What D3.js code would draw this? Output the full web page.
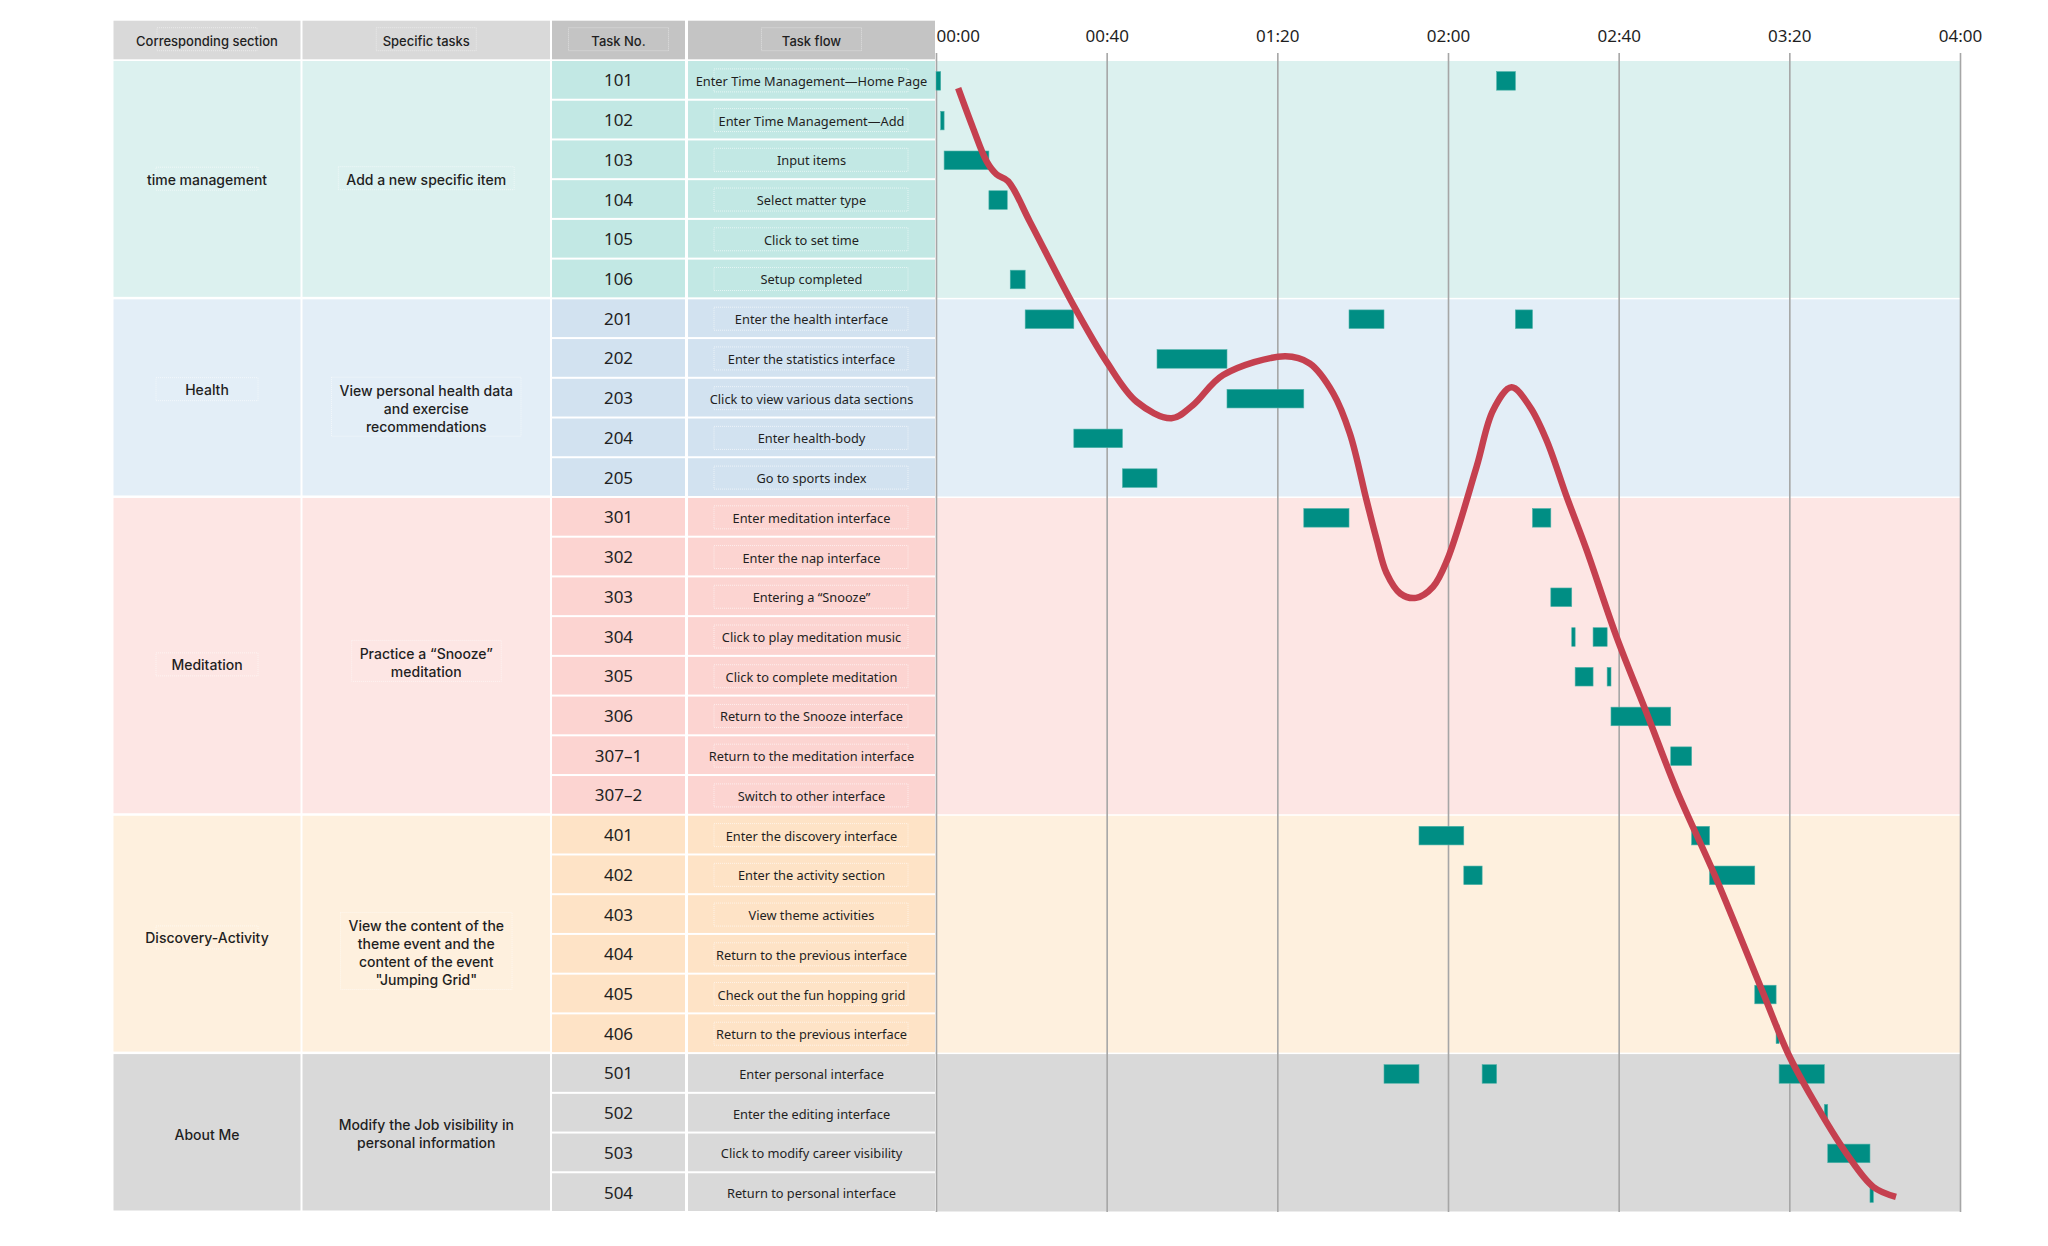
<!DOCTYPE html>
<html>
<head>
<meta charset="utf-8">
<script src="https://cdn.jsdelivr.net/npm/d3@7"></script>
<style>
  body { margin: 0; background: #fff; }
  text { fill: #1f1f1f; }
</style>
</head>
<body>
<div class="ganttChart"></div>
<script>
// ---- data ----
var sectionNames = ["time management", "Health", "Meditation", "Discovery-Activity", "About Me"];
var sectionTasks = [
  ["Add a new specific item"],
  ["View personal health data", "and exercise", "recommendations"],
  ["Practice a \u201cSnooze\u201d", "meditation"],
  ["View the content of the", "theme event and the", "content of the event", "\"Jumping Grid\""],
  ["Modify the Job visibility in", "personal information"]
];
var sectionRowCounts = [6, 5, 8, 6, 4];

var taskIds = ["101", "102", "103", "104", "105", "106",
  "201", "202", "203", "204", "205",
  "301", "302", "303", "304", "305", "306", "307\u20131", "307\u20132",
  "401", "402", "403", "404", "405", "406",
  "501", "502", "503", "504"];

var taskFlows = ["Enter Time Management\u2014Home Page", "Enter Time Management\u2014Add", "Input items",
  "Select matter type", "Click to set time", "Setup completed",
  "Enter the health interface", "Enter the statistics interface", "Click to view various data sections",
  "Enter health-body", "Go to sports index",
  "Enter meditation interface", "Enter the nap interface", "Entering a \u201cSnooze\u201d",
  "Click to play meditation music", "Click to complete meditation", "Return to the Snooze interface",
  "Return to the meditation interface", "Switch to other interface",
  "Enter the discovery interface", "Enter the activity section", "View theme activities",
  "Return to the previous interface", "Check out the fun hopping grid", "Return to the previous interface",
  "Enter personal interface", "Enter the editing interface", "Click to modify career visibility",
  "Return to personal interface"];

// [task, start minute, end minute]
var segments = [
  ["101", 0, 1.1], ["102", 1.1, 1.9], ["103", 1.9, 12.4], ["104", 12.4, 16.7], ["106", 17.4, 20.9],
  ["201", 20.9, 32.3], ["204", 32.3, 43.7], ["205", 43.7, 51.8], ["202", 51.8, 68.2], ["203", 68.2, 86.2],
  ["301", 86.2, 96.8], ["201", 96.8, 105.0], ["501", 105.0, 113.2], ["401", 113.2, 123.7],
  ["402", 123.7, 128.0], ["501", 128.0, 131.4], ["101", 131.4, 135.8], ["201", 135.8, 139.8],
  ["301", 139.8, 144.1], ["303", 144.1, 149.0], ["304", 149.0, 149.8], ["305", 149.8, 154.0],
  ["304", 154.0, 157.3], ["305", 157.3, 158.2], ["306", 158.2, 172.2], ["307\u20131", 172.2, 177.1],
  ["401", 177.1, 181.3], ["402", 181.3, 191.9], ["405", 191.9, 196.9], ["406", 196.9, 197.6],
  ["501", 197.6, 208.2], ["502", 208.2, 209.0], ["503", 209.0, 218.9], ["504", 218.9, 219.7]
];

// trend line: minute and fractional row index (0 = task 101)
var curveMinutes = [5.2, 8.7, 11.9, 14.2, 16.9, 22.0, 32.2, 40.0, 47.0, 55.2, 60.2, 67.3, 81.8,
  87.6, 93.1, 97.0, 100.9, 103.3, 105.6, 108.8, 112.5, 116.5, 119.8, 126.7, 130.6, 134.9, 139.2,
  143.1, 147.8, 152.5, 159.5, 166.6, 173.6, 183.0, 193.9, 199.7, 205.6, 213.4, 219.7, 225.0];
var curveRows = [0.21, 1.22, 2.06, 2.38, 2.55, 3.57, 5.67, 7.10, 8.10, 8.52, 8.19, 7.43, 6.96,
  7.14, 7.89, 8.90, 10.58, 11.58, 12.42, 12.93, 13.04, 12.76, 12.09, 9.74, 8.31, 7.74, 8.23,
  9.07, 10.49, 11.84, 14.02, 15.95, 17.88, 20.14, 23.0, 24.51, 25.68, 27.03, 27.87, 28.12];

var timeTicks = [0, 40, 80, 120, 160, 200, 240];
var tickLabels = ["00:00", "00:40", "01:20", "02:00", "02:40", "03:20", "04:00"];
var headerLabels = ["Corresponding section", "Specific tasks", "Task No.", "Task flow"];

// ---- styles / layout ----
var lightColors = ["#dcf1ef", "#e3eef7", "#fde6e4", "#fef0de", "#d9d9d9"];
var midColors = ["#c2e8e4", "#d2e2f0", "#fcd4d1", "#fee3c6", "#d9d9d9"];
var headerColors = ["#d9d9d9", "#d9d9d9", "#c4c4c4", "#c4c4c4"];
var cols = [[113.5, 300.5], [302.5, 550], [552, 685], [688, 935]];
var nameShift = [0, -8, 9, 4, 2], taskShift = [0, 10, 6, 18, 0];
var rowsTop = 60, rowsBottom = 1212, headTop = 20.7, headBottom = 59.3;

var width = 2048, height = 1246;

var svg = d3.select(".ganttChart").append("svg")
  .attr("width", width)
  .attr("height", height);

var x = d3.scaleLinear().domain([0, 240]).range([936, 1960]);
var y = d3.scaleBand().domain(taskIds).range([rowsTop, rowsBottom]);
var rowPos = d3.scaleLinear().domain([-0.5, taskIds.length - 0.5]).range([rowsTop, rowsBottom]);

// section spans
var sections = [], start = 0;
sectionNames.forEach(function(name, i) {
  sections.push({ i: i, name: name, tasks: sectionTasks[i], first: start, last: start + sectionRowCounts[i] - 1 });
  start += sectionRowCounts[i];
});
var sectionOf = [];
sections.forEach(function(s) { for (var k = s.first; k <= s.last; k++) sectionOf[k] = s.i; });

function secTop(s) { return y(taskIds[s.first]); }
function secBottom(s) { return y(taskIds[s.last]) + y.bandwidth(); }
function secMid(s) { return (secTop(s) + secBottom(s)) / 2; }

// header
var head = svg.append("g").attr("class", "header");
head.selectAll("rect.head")
  .data(headerLabels)
  .enter().append("rect")
    .attr("class", "head")
    .attr("x", function(d, i) { return cols[i][0]; })
    .attr("y", headTop)
    .attr("width", function(d, i) { return cols[i][1] - cols[i][0]; })
    .attr("height", headBottom - headTop)
    .style("fill", function(d, i) { return headerColors[i]; });

head.selectAll("rect.box")
  .data(headerLabels)
  .enter().append("rect")
    .attr("class", "box")
    .attr("x", function(d, i) { return (cols[i][0] + cols[i][1]) / 2 - 50; })
    .attr("y", headTop + 7)
    .attr("width", 100)
    .attr("height", 23)
    .style("fill", "none")
    .style("stroke", "#ffffff")
    .style("stroke-opacity", 0.45)
    .style("stroke-dasharray", "1 1");

head.selectAll("text")
  .data(headerLabels)
  .enter().append("text")
    .attr("x", function(d, i) { return (cols[i][0] + cols[i][1]) / 2; })
    .attr("y", (headTop + headBottom) / 2 + 1)
    .attr("dominant-baseline", "central")
    .style("text-anchor", "middle")
    .style("font-family", "Inter, 'Noto Sans', sans-serif")
    .style("font-weight", 500)
    .style("font-size", "13px")
    .text(function(d) { return d; });

// section cells (col 1, col 2) and chart backgrounds
var sec = svg.append("g").attr("class", "sections");
[0, 1].forEach(function(c) {
  sec.selectAll("rect.col" + c)
    .data(sections)
    .enter().append("rect")
      .attr("class", "col" + c)
      .attr("x", cols[c][0])
      .attr("y", function(s) { return secTop(s) + 1; })
      .attr("width", cols[c][1] - cols[c][0])
      .attr("height", function(s) { return secBottom(s) - secTop(s) - 2.5; })
      .style("fill", function(s) { return lightColors[s.i]; });
});

sec.selectAll("rect.bg")
  .data(sections)
  .enter().append("rect")
    .attr("class", "bg")
    .attr("x", x(0))
    .attr("y", function(s) { return secTop(s) + 1; })
    .attr("width", x(240) - x(0))
    .attr("height", function(s) { return secBottom(s) - secTop(s) - 1.5; })
    .style("fill", function(s) { return lightColors[s.i]; });

// section label boxes
sec.selectAll("rect.labelBox")
  .data(sections.filter(function(s) { return s.i < 4; }))
  .enter().append("rect")
    .attr("class", "labelBox")
    .attr("x", (cols[0][0] + cols[0][1]) / 2 - 51)
    .attr("y", function(s) { return secMid(s) + nameShift[s.i] - 12; })
    .attr("width", 102)
    .attr("height", 23)
    .style("fill", "none")
    .style("stroke", "#ffffff")
    .style("stroke-opacity", 0.55)
    .style("stroke-dasharray", "1 1");

sec.selectAll("text.name")
  .data(sections)
  .enter().append("text")
    .attr("class", "name")
    .attr("x", (cols[0][0] + cols[0][1]) / 2)
    .attr("y", function(s) { return secMid(s) + nameShift[s.i]; })
    .attr("dominant-baseline", "central")
    .style("text-anchor", "middle")
    .style("font-family", "Inter, 'Noto Sans', sans-serif")
    .style("font-weight", 500)
    .style("font-size", "14px")
    .text(function(s) { return s.name; });

var taskText = sec.selectAll("text.task")
  .data(sections)
  .enter().append("text")
    .attr("class", "task")
    .attr("x", (cols[1][0] + cols[1][1]) / 2)
    .attr("y", function(s) { return secMid(s) + taskShift[s.i] - (s.tasks.length - 1) * 9; })
    .attr("dominant-baseline", "central")
    .style("text-anchor", "middle")
    .style("font-family", "Inter, 'Noto Sans', sans-serif")
    .style("font-weight", 500)
    .style("font-size", "14px");

taskText.selectAll("tspan")
  .data(function(s) { return s.tasks; })
  .enter().append("tspan")
    .attr("x", (cols[1][0] + cols[1][1]) / 2)
    .attr("dy", function(d, i) { return i === 0 ? 0 : 18; })
    .text(function(d) { return d; });

// faint outline boxes around the task texts
taskText.each(function(s) {
  if (s.i === 4) return;
  var b = this.getBBox();
  sec.append("rect")
    .attr("x", b.x - 8)
    .attr("y", b.y - 4)
    .attr("width", b.width + 16)
    .attr("height", b.height + 6)
    .style("fill", "none")
    .style("stroke", "#ffffff")
    .style("stroke-opacity", 0.55)
    .style("stroke-dasharray", "1 1");
});

// task rows (col 3, col 4)
var rows = svg.append("g").attr("class", "rows");
[2, 3].forEach(function(c) {
  rows.selectAll("rect.cell" + c)
    .data(taskIds)
    .enter().append("rect")
      .attr("class", "cell" + c)
      .attr("x", cols[c][0])
      .attr("y", function(d) { return y(d) + 1; })
      .attr("width", cols[c][1] - cols[c][0])
      .attr("height", y.bandwidth() - 2)
      .style("fill", function(d, i) { return midColors[sectionOf[i]]; });
});

rows.selectAll("rect.flowBox")
  .data(taskIds.filter(function(d, i) { return sectionOf[i] < 4; }))
  .enter().append("rect")
    .attr("class", "flowBox")
    .attr("x", 714)
    .attr("y", function(d) { return y(d) + y.bandwidth() / 2 - 11; })
    .attr("width", 194)
    .attr("height", 23)
    .style("fill", "none")
    .style("stroke", "#ffffff")
    .style("stroke-opacity", 0.6)
    .style("stroke-dasharray", "1 1");

rows.selectAll("text.num")
  .data(taskIds)
  .enter().append("text")
    .attr("class", "num")
    .attr("x", (cols[2][0] + cols[2][1]) / 2)
    .attr("y", function(d) { return y(d) + y.bandwidth() / 2; })
    .attr("dominant-baseline", "central")
    .style("text-anchor", "middle")
    .style("font-family", "'Noto Sans', sans-serif")
    .style("font-size", "17px")
    .text(function(d) { return d; });

rows.selectAll("text.flow")
  .data(taskFlows)
  .enter().append("text")
    .attr("class", "flow")
    .attr("x", (cols[3][0] + cols[3][1]) / 2)
    .attr("y", function(d, i) { return y(taskIds[i]) + y.bandwidth() / 2 + 1; })
    .attr("dominant-baseline", "central")
    .style("text-anchor", "middle")
    .style("font-family", "'Noto Sans', sans-serif")
    .style("font-size", "12.8px")
    .text(function(d) { return d; });

// time axis with full-height grid lines
var axis = svg.append("g")
  .attr("class", "axis")
  .attr("transform", "translate(0," + rowsBottom + ")")
  .call(d3.axisTop(x)
    .tickValues(timeTicks)
    .tickSize(rowsBottom - 53)
    .tickPadding(11)
    .tickFormat(function(d, i) { return tickLabels[i]; }));

axis.select(".domain").remove();
axis.selectAll(".tick line")
  .style("stroke", "#a6a6a6")
  .style("stroke-width", 1.6);
axis.selectAll(".tick text")
  .style("font-family", "'Noto Sans', sans-serif")
  .style("font-size", "17px")
  .style("fill", "#1f1f1f")
  .style("text-anchor", function(d, i) { return i === 0 ? "start" : "middle"; });

// task segments
var barHeight = 18.6;
svg.append("g").attr("class", "bars")
  .selectAll("rect")
  .data(segments)
  .enter().append("rect")
    .attr("x", function(d) { return x(d[1]); })
    .attr("y", function(d) { return y(d[0]) + y.bandwidth() / 2 - barHeight / 2 + 1; })
    .attr("width", function(d) { return Math.max(1.5, x(d[2]) - x(d[1])); })
    .attr("height", barHeight)
    .style("fill", "#008e84")
    .style("stroke", "#4fb2a9")
    .style("stroke-width", 0.6);

// trend curve
var line = d3.line()
  .x(function(d, i) { return x(curveMinutes[i]); })
  .y(function(d, i) { return rowPos(curveRows[i]); })
  .curve(d3.curveCatmullRom.alpha(0.5));

svg.append("path")
  .datum(curveMinutes)
  .attr("d", line)
  .style("fill", "none")
  .style("stroke", "#c5404f")
  .style("stroke-width", 6.5)
  .style("stroke-linejoin", "round");
</script>
</body>
</html>
